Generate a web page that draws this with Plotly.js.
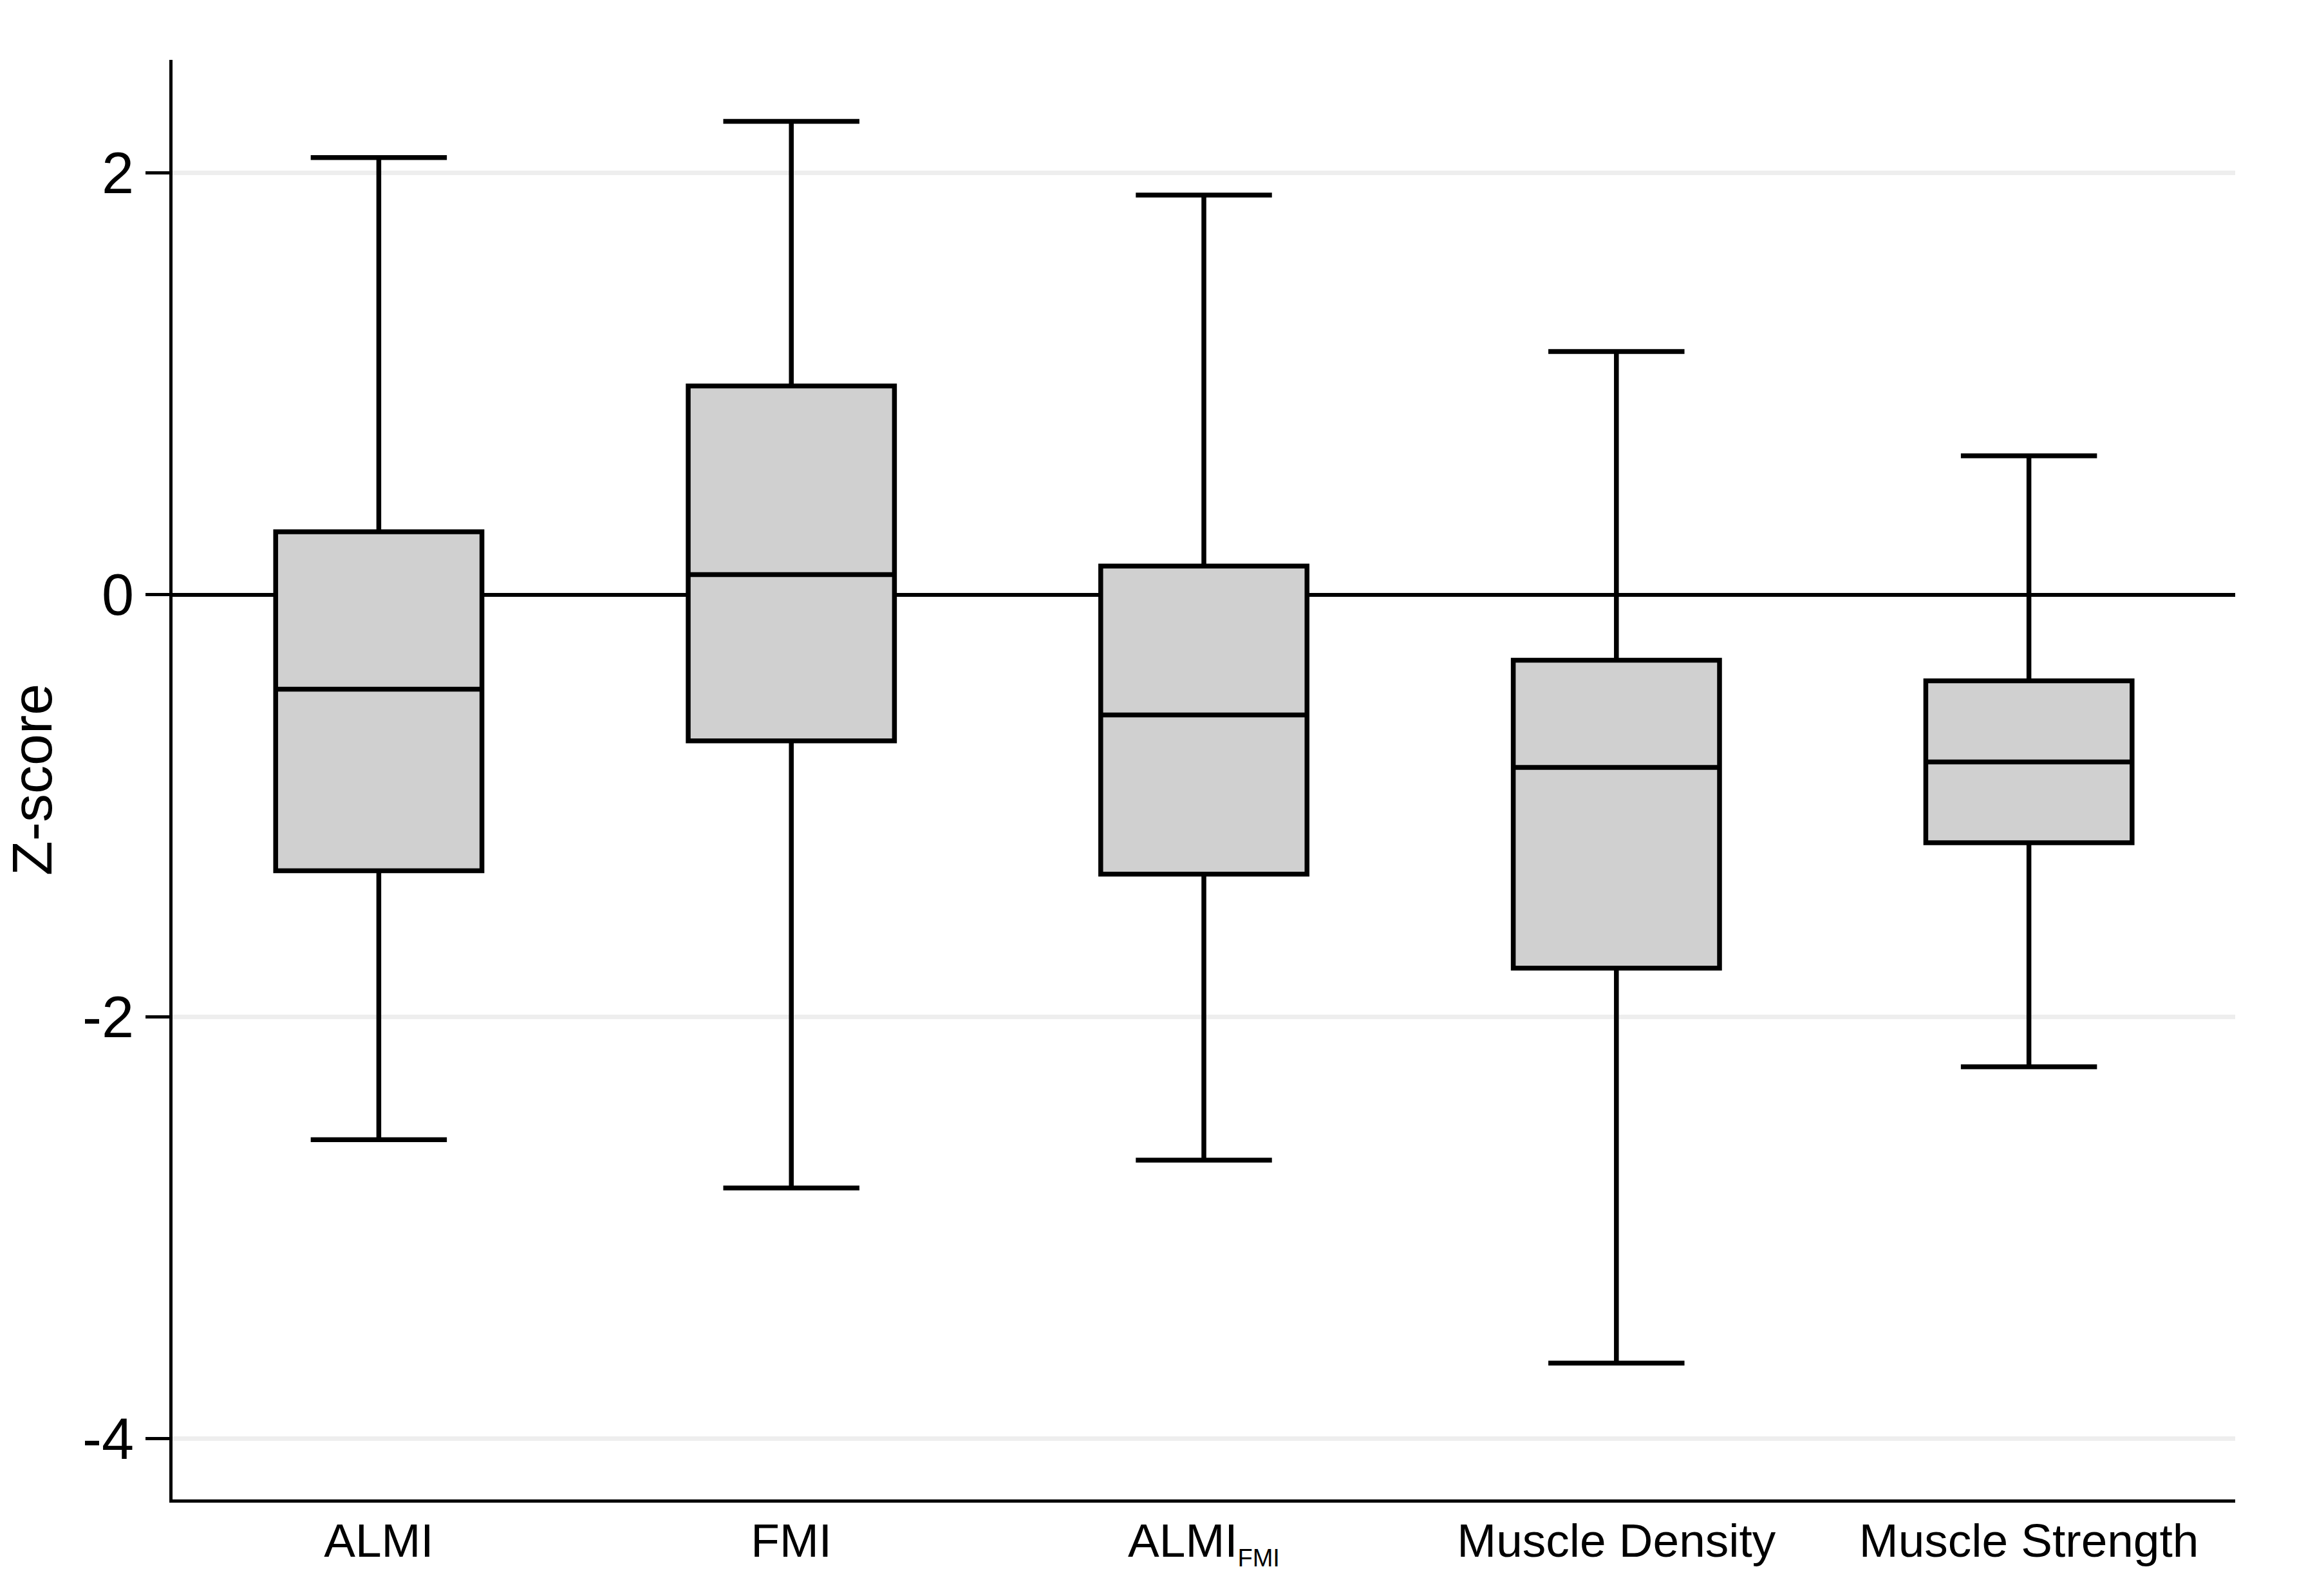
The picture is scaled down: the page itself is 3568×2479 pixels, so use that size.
<!DOCTYPE html>
<html>
<head>
<meta charset="utf-8">
<script src="https://cdn.plot.ly/plotly-3.0.1.min.js"></script>
<style>html,body{margin:0;padding:0;background:#fff;}#chart{width:3568px;height:2479px;}</style>
</head>
<body>
<div id="chart"></div>
<script>
// Data
var categories = ["ALMI", "FMI", "ALMI_FMI", "Muscle Density", "Muscle Strength"];
var tickLabels = ["ALMI", "FMI", "ALMI<sub><span style=\"font-size:38px\">FMI</span></sub>", "Muscle Density", "Muscle Strength"];
var yTickValues = [-4, -2, 0, 2];
var yTickLabels = ["-4", "-2", "0", "2"];
var lowerWhisker = [-2.582, -2.811, -2.679, -3.641, -2.237];
var q1Values     = [-1.308, -0.692, -1.324, -1.769, -1.175];
var medianValues = [-0.447,  0.096, -0.569, -0.818, -0.792];
var q3Values     = [ 0.299,  0.990,  0.136, -0.310, -0.408];
var upperWhisker = [ 2.072,  2.244,  1.894,  1.153,  0.659];

var trace = {
  type: 'box',
  x: categories,
  lowerfence: lowerWhisker,
  q1: q1Values,
  median: medianValues,
  q3: q3Values,
  upperfence: upperWhisker,
  width: 0.5,
  whiskerwidth: 0.66,
  boxpoints: false,
  fillcolor: 'rgb(208,208,208)',
  line: {color: '#000000', width: 7.5},
  hoverinfo: 'none',
  showlegend: false
};

var layout = {
  width: 3568,
  height: 2479,
  margin: {l: 268, r: 96, t: 93, b: 150, pad: 0},
  paper_bgcolor: '#ffffff',
  plot_bgcolor: '#ffffff',
  font: {family: '"Liberation Sans", Arial, Helvetica, sans-serif', color: '#000000'},
  showlegend: false,
  xaxis: {
    type: 'category',
    range: [-0.5, 4.5],
    tickvals: categories,
    ticktext: tickLabels,
    showgrid: false,
    zeroline: false,
    showline: true,
    linecolor: '#000000',
    linewidth: 5,
    ticks: '',
    tickfont: {size: 73, color: '#000000'},
    ticklabelstandoff: -4,
    fixedrange: true
  },
  yaxis: {
    range: [-4.287, 2.535],
    tickmode: 'array',
    tickvals: yTickValues,
    ticktext: yTickLabels,
    showgrid: true,
    gridcolor: '#eeeeee',
    gridwidth: 7,
    zeroline: true,
    zerolinecolor: '#000000',
    zerolinewidth: 6,
    showline: true,
    linecolor: '#000000',
    linewidth: 5,
    ticks: 'outside',
    ticklen: 37,
    tickwidth: 5,
    tickcolor: '#000000',
    tickfont: {size: 90, color: '#000000'},
    ticklabelstandoff: 0,
    title: {text: 'Z-score', font: {size: 88, color: '#000000'}, standoff: 68},
    fixedrange: true
  }
};

Plotly.newPlot('chart', [trace], layout, {staticPlot: true, displayModeBar: false});
</script>
</body>
</html>
